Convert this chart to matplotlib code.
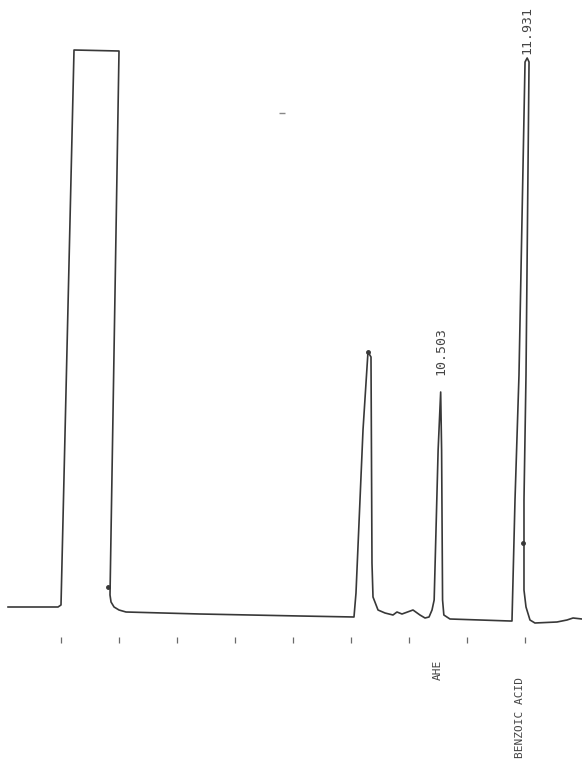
import matplotlib.pyplot as plt
import numpy as np
from matplotlib.transforms import Affine2D

# detector trace: retention time [min] and signal [mV]
trace_time = [
    3.084, 3.946, 3.997, 4.116, 4.892, 4.840, 4.859, 4.912, 4.998, 5.119,
    6.395, 8.120, 9.051, 9.081, 9.171, 9.242, 9.295, 9.351, 9.375, 9.464,
    9.585, 9.723, 9.791, 9.878, 10.067, 10.188, 10.276, 10.345, 10.395,
    10.430, 10.470, 10.503, 10.530, 10.575, 10.600, 10.706, 11.224, 11.741,
    11.776, 11.805, 11.850, 11.895, 11.931, 11.964, 11.971, 11.960, 11.977,
    12.015, 12.086, 12.172, 12.552, 12.724, 12.828, 12.983,
]
trace_signal = [
    1.3, 1.3, 1.5, 57.0, 56.9, 2.5, 1.8, 1.3, 1.0, 0.8,
    0.6, 0.4, 0.3, 2.7, 19.0, 26.8, 26.3, 5.7, 2.3, 1.0,
    0.7, 0.5, 0.8, 0.6, 1.0, 0.5, 0.2, 0.3, 1.0,
    2.0, 17.0, 22.8, 17.0, 2.0, 0.5, 0.1, 0.0, -0.1,
    -0.1, 12.0, 24.5, 55.8, 56.2, 55.8, 24.5, 12.0, 3.0,
    1.3, 0.0, -0.3, -0.2, 0.0, 0.2, 0.1,
]

# dots the integrator put on the trace
mark_time = [4.804, 9.242, 11.950]
mark_signal = [3.3, 26.8, 7.7]

# named peaks
peak_times = [10.503, 11.931]
peak_heights = [22.8, 56.2]
peak_names = ["AHE", "BENZOIC ACID"]

tick_minutes = list(range(4, 14))

fig = plt.figure(figsize=(5.82, 7.59), dpi=100)
ax = fig.add_axes([0, 0, 1, 1])
ax.set_xlim(2.948, 12.983)
ax.set_ylim(-13.9, 62.0)
ax.axis("off")

# the chart paper ran slightly crooked, so lean everything a bit to the right
base_y = ax.transData.transform((0, 0))[1]
lean = Affine2D().translate(0, -base_y).skew(np.arctan(0.011), 0).translate(0, base_y)
trans = ax.transData + lean

ink = "#383838"
ax.plot(trace_time, trace_signal, color=ink, linewidth=1.2, transform=trans,
        solid_joinstyle="round")
ax.plot(mark_time, mark_signal, "o", color=ink, markersize=2.5, transform=trans)

# minute ticks under the baseline
ax.plot(tick_minutes, [-2.0] * len(tick_minutes), "|", color="#6a6a6a",
        markersize=5, markeredgewidth=0.9, transform=trans)

# stray pen mark
ax.plot([7.714], [50.7], "_", color="#888888", markersize=5, transform=trans)

label_gap = [1.7, 0.4]
name_top = [-4.0, -5.7]
for t, h, gap, name, top in zip(peak_times, peak_heights, label_gap,
                                peak_names, name_top):
    ax.text(t, h + gap, f"{t:.3f}", rotation=90, ha="center", va="bottom",
            family="DejaVu Sans Mono", fontsize=9.5, color="#444444",
            transform=trans)
    ax.text(t, top, name, rotation=90, ha="center", va="top",
            family="DejaVu Sans Mono", fontsize=8, color="#444444",
            transform=trans)

fig.savefig("out.png", dpi=100, facecolor="white")
